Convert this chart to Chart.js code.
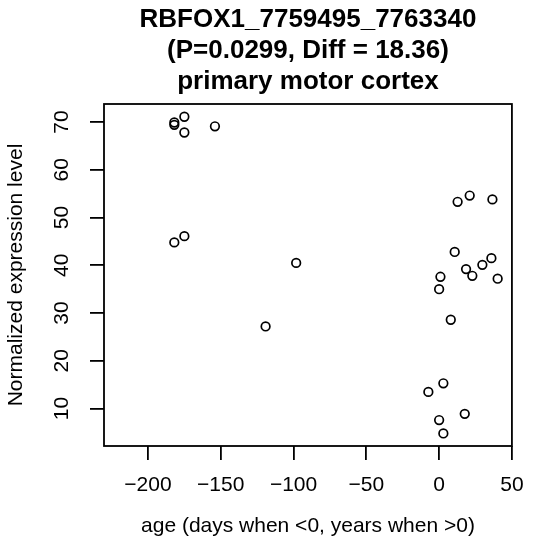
<!DOCTYPE html>
<html>
<head>
<meta charset="utf-8">
<script src="https://cdn.jsdelivr.net/npm/chart.js@4/dist/chart.umd.min.js"></script>
<style>
  html, body { margin: 0; padding: 0; background: #fff; }
  canvas { display: block; }
</style>
</head>
<body>
<canvas id="myChart" width="536" height="553"></canvas>
<script>
// edades (dias si <0, años si >0) y nivel de expresion normalizado
const ages = [-181.9, -181.9, -175.0, -175.0, -154.0, -181.9, -175.0, -98.2, -119.2,
  12.7, 21.0, 36.6, 10.7, 35.9, 29.7, 18.5, 22.8, 40.2, 0.9, 0.0, 8.0, 2.9, -7.4, 17.6, 0.0, 2.9];
const expression = [69.9, 69.4, 71.1, 67.8, 69.1, 44.8, 46.1, 40.5, 27.2,
  53.3, 54.6, 53.8, 42.8, 41.5, 40.1, 39.2, 37.8, 37.2, 37.6, 35.0, 28.6, 15.3, 13.5, 8.9, 7.6, 4.8];

const titleLines = ['RBFOX1_7759495_7763340', '(P=0.0299, Diff = 18.36)', 'primary motor cortex'];
const xLabel = 'age (days when <0, years when >0)';
const yLabel = 'Normalized expression level';

const fontFamily = '"Liberation Sans", Arial, Helvetica, sans-serif';

const points = ages.map((a, i) => ({ x: a, y: expression[i] }));

// caja alrededor del area de la grafica (como en R)
const boxPlugin = {
  id: 'box',
  afterDraw(chart) {
    const { ctx, chartArea } = chart;
    ctx.save();
    ctx.strokeStyle = '#000';
    ctx.lineWidth = 1.8;
    ctx.strokeRect(chartArea.left, chartArea.top, chartArea.right - chartArea.left, chartArea.bottom - chartArea.top);
    ctx.restore();
  }
};

const ctx = document.getElementById('myChart').getContext('2d');
const myChart = new Chart(ctx, {
  type: 'scatter',
  data: {
    datasets: [{
      data: points,
      pointStyle: 'circle',
      pointRadius: 4.3,
      pointBorderWidth: 1.7,
      pointBorderColor: '#000',
      pointBackgroundColor: 'rgba(0,0,0,0)',
      showLine: false
    }]
  },
  options: {
    responsive: false,
    animation: false,
    layout: { padding: { left: 0, right: 14, top: 0, bottom: 0 } },
    plugins: {
      legend: { display: false },
      tooltip: { enabled: false },
      title: {
        display: true,
        fullSize: false, // centrado sobre el area de la grafica, como R
        text: titleLines,
        color: '#000',
        font: { family: fontFamily, size: 26, weight: 'bold', lineHeight: '31px' },
        padding: { top: 4.5, bottom: 6.5 }
      }
    },
    scales: {
      x: {
        type: 'linear',
        min: -230.2,
        max: 50,
        afterFit(scale) { scale.height = 107; },
        border: { display: false },
        grid: { drawOnChartArea: false, drawTicks: true, tickLength: 14, color: '#000', lineWidth: 1.8 },
        ticks: {
          stepSize: 50,
          includeBounds: false,
          maxRotation: 0,
          autoSkip: false,
          padding: 12.4,
          color: '#000',
          font: { family: fontFamily, size: 21 },
          callback: (v) => v < 0 ? '\u2212' + Math.abs(v) : String(v)
        },
        title: {
          display: true,
          text: xLabel,
          color: '#000',
          font: { family: fontFamily, size: 21 },
          padding: { top: 0, bottom: 14.4 }
        }
      },
      y: {
        type: 'linear',
        min: 2.17,
        max: 73.77,
        afterFit(scale) { scale.width = 104; },
        border: { display: false },
        grid: { drawOnChartArea: false, drawTicks: true, tickLength: 14, color: '#000', lineWidth: 1.8 },
        ticks: {
          stepSize: 10,
          includeBounds: false,
          minRotation: 90,
          maxRotation: 90,
          crossAlign: 'center',
          autoSkip: false,
          padding: 16.3,
          color: '#000',
          font: { family: fontFamily, size: 21 }
        },
        title: {
          display: true,
          text: yLabel,
          color: '#000',
          font: { family: fontFamily, size: 21 },
          padding: { top: 3.4, bottom: 0 }
        }
      }
    }
  },
  plugins: [boxPlugin]
});
</script>
</body>
</html>
